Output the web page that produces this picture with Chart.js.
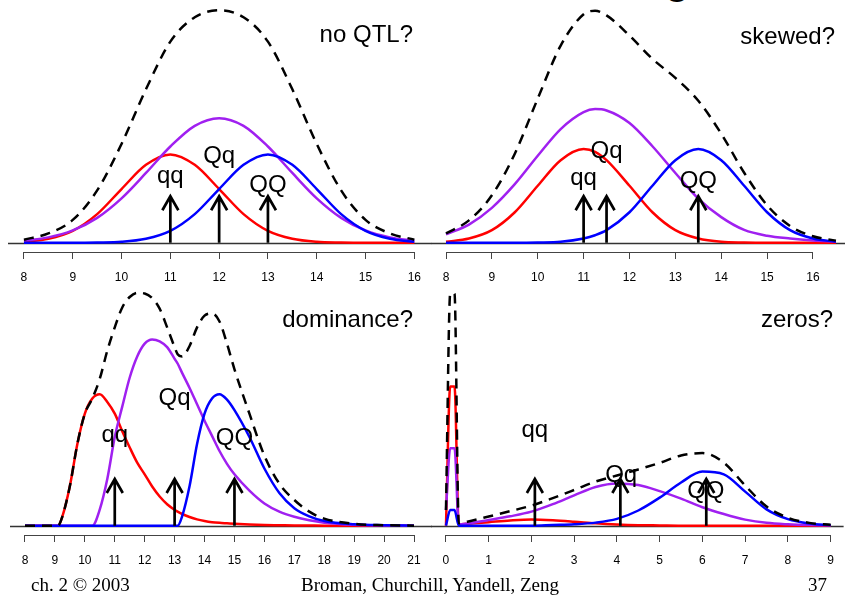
<!DOCTYPE html>
<html>
<head>
<meta charset="utf-8">
<script src="https://cdn.jsdelivr.net/npm/chart.js@4.4.1/dist/chart.umd.min.js"></script>
<style>
    html, body { margin: 0; padding: 0; background: #fff; overflow: hidden; }
    body { width: 845px; height: 598px; position: relative; }
    canvas { position: absolute; }
    .foot { position: absolute; font-family: "Liberation Serif", "Times New Roman", serif; font-size: 19px; line-height: 19px; color: #000; white-space: nowrap; }
    .cut { position: absolute; font-family: "Liberation Sans", Arial, sans-serif; font-size: 48px; line-height: 48px; color: #000; }
</style>
</head>
<body>
<div class="cut" style="left:664px; top:-48px;">g</div>

<canvas id="noQtl" width="432" height="290" style="left:0; top:0;"></canvas>
<canvas id="skewed" width="420" height="290" style="left:425px; top:0;"></canvas>
<canvas id="dominance" width="432" height="290" style="left:0; top:283px;"></canvas>
<canvas id="zeros" width="420" height="290" style="left:425px; top:283px;"></canvas>

<div class="foot" style="left:31px; top:575px;">ch. 2 © 2003</div>
<div class="foot" style="left:230px; top:575px; width:400px; text-align:center;">Broman, Churchill, Yandell, Zeng</div>
<div class="foot" style="right:18px; top:575px; text-align:right;">37</div>

<script>
// genotype labels shared by all panels
const genoLabels = ['qq', 'Qq', 'QQ'];
const arrowTop = 20;

// no QTL?
const noQtlX = [8, 8.5, 9, 9.5, 10, 10.5, 11, 11.5, 12, 12.5, 13, 13.5, 14, 14.5, 15, 15.5, 16];
const noQtlqq = [0.4, 1.7, 5.1, 12.3, 23.1, 33.5, 38, 33.5, 23.1, 12.3, 5.1, 1.7, 0.4, 0.1, 0, 0, 0];
const noQtlQq = [0.9, 2.3, 5.3, 10.7, 19.1, 30.0, 41.4, 50.3, 53.6, 50.3, 41.4, 30.0, 19.1, 10.7, 5.3, 2.3, 0.9];
const noQtlQQ = [0, 0, 0, 0.1, 0.4, 1.7, 5.1, 12.3, 23.1, 33.5, 38, 33.5, 23.1, 12.3, 5.1, 1.7, 0.4];
const noQtlTotal = [1.3, 4.0, 9.8, 22.5, 42.5, 66, 86.5, 97, 100, 97, 86.5, 66, 42.5, 22.5, 9.8, 4.0, 1.3];
const noQtlTicks = [8, 9, 10, 11, 12, 13, 14, 15, 16];
const noQtlMeans = [11, 12, 13];
const noQtlLabelX = [11, 12, 13];
const noQtlLabelY = [25.8, 34.2, 21.9];

// skewed?
const skewX = [8, 8.5, 9, 9.5, 10, 10.5, 11, 11.25, 11.5, 12, 12.5, 13, 13.5, 14, 14.5, 15, 15.5, 16, 16.5];
const skewqq = [0.4, 1.8, 5.4, 13.1, 24.5, 35.5, 40.3, 39.1, 35.5, 24.5, 13.1, 5.4, 1.8, 0.4, 0.1, 0, 0, 0, 0];
const skewQq = [3.6, 7.8, 15.0, 25.2, 37.4, 48.9, 56.2, 57.5, 56.9, 51.5, 41.5, 30.0, 19.0, 11.0, 5.5, 3.0, 1.8, 1.0, 0.5];
const skewQQ = [0, 0, 0, 0, 0.1, 0.4, 1.8, 3.2, 5.4, 13.1, 24.5, 35.5, 40.3, 35.5, 24.5, 13.1, 5.4, 1.8, 0.4];
const skewTotal = [4.0, 9.6, 20.4, 38.3, 62.0, 84.8, 98.3, 99.8, 97.8, 89.1, 79.1, 70.9, 61.1, 46.9, 30.1, 16.1, 7.2, 2.8, 0.9];
const skewTicks = [8, 9, 10, 11, 12, 13, 14, 15, 16];
const skewMeans = [11, 11.5, 13.5];
const skewLabelX = [11, 11.5, 13.5];
const skewLabelY = [24.8, 36.3, 23.4];

// dominance?
const domX = [8, 9, 9.1, 9.25, 9.5, 9.75, 10, 10.25, 10.5, 10.75, 11, 11.25, 11.5, 11.75, 12, 12.25, 12.5, 12.75,
    13, 13.1, 13.25, 13.5, 13.75, 14, 14.25, 14.5, 14.75, 15, 15.5, 16, 16.5, 17, 17.5, 18, 19, 20, 21];
const domqq = [0, 0, 0, 4, 17, 35, 48, 54.5, 56.3, 53, 48, 40.5, 33.5, 27, 22, 16.8, 12.5, 9.2,
    6.8, 6, 5, 3.7, 2.7, 2, 1.5, 1.2, 1, 0.8, 0.5, 0.3, 0.2, 0.1, 0.05, 0, 0, 0, 0];
const domQq = [0, 0, 0, 0, 0, 0, 0, 0, 7, 20, 38, 51, 63.5, 72.5, 78, 79.8, 79, 76.5,
    71.5, 69.5, 65.5, 59, 52, 45, 38.5, 32, 26.5, 22, 15, 9.5, 6, 3.8, 2.3, 1.3, 0.4, 0.1, 0];
const domQQ = [0, 0, 0, 0, 0, 0, 0, 0, 0, 0, 0, 0, 0, 0, 0, 0, 0, 0,
    0, 0, 4, 17, 35, 48, 54.5, 56.3, 54, 49.5, 38, 24.5, 14, 7.5, 4, 2, 0.6, 0.2, 0];
const domTotal = [0, 0, 0, 4, 17, 35, 48, 54.5, 63, 75, 85, 93.5, 98, 99.8, 99.5, 97.5, 93, 85,
    76.5, 73.5, 72.5, 77, 85, 90, 91, 87.5, 78, 67, 48, 30, 18, 11, 6, 3, 0.8, 0.2, 0];
const domTicks = [8, 9, 10, 11, 12, 13, 14, 15, 16, 17, 18, 19, 20, 21];
const domMeans = [11, 13, 15];
const domLabelX = [11, 13, 15];
const domLabelY = [36, 51.7, 34.6];

// zeros?
const zeroX = [0, 0.1, 0.2, 0.3, 0.5, 1, 1.5, 2, 2.5, 3, 3.5, 4, 4.5, 5, 5.5, 6, 6.5, 7, 7.5, 8, 8.5, 9];
const zeroqq = [0, 59.6, 59.6, 0.5, 0.8, 1.5, 2.2, 2.6, 2.3, 1.7, 1.0, 0.5, 0.2, 0.1, 0, 0, 0, 0, 0, 0, 0, 0];
const zeroQq = [6.7, 33.2, 33.2, 0.5, 0.9, 2.4, 4, 6, 9.2, 13, 16.6, 18.1, 17.4, 14.8, 11.6, 7.9, 5, 2.6, 1.2, 0.6, 0.3, 0.2];
const zeroQQ = [0, 6.7, 6.7, 0, 0, 0, 0, 0, 0.3, 0.6, 1.3, 2.9, 6.5, 12, 18.5, 23.2, 22, 14.6, 7, 2.8, 0.9, 0.2];
const zeroTotal = [6.7, 99.5, 99.5, 1.0, 1.7, 3.9, 6.2, 8.6, 11.8, 15.3, 18.9, 21.5, 24.1, 26.9, 30.1, 31.1, 27, 17.2, 8.2, 3.4, 1.2, 0.4];
const zeroTicks = [0, 1, 2, 3, 4, 5, 6, 7, 8, 9];
const zeroMeans = [2.08, 4.08, 6.09];
const zeroLabelX = [2.08, 4.1, 6.08];
const zeroLabelY = [38.1, 18.9, 11.7];

const SANS = '"Liberation Sans", Arial, sans-serif';

function panelDecor(opt) {
    return {
        id: 'panelDecor',
        beforeDatasetsDraw(chart) {
            const { ctx, chartArea, scales: { x, y } } = chart;
            ctx.save();
            // zero line
            const y0 = Math.round(y.getPixelForValue(0)) + 0.5;
            ctx.strokeStyle = '#333';
            ctx.lineWidth = 1.3;
            ctx.beginPath();
            ctx.moveTo(chartArea.left, y0);
            ctx.lineTo(chartArea.right, y0);
            ctx.stroke();
            // axis line between first and last tick
            const ay = chartArea.bottom + 0.5;
            ctx.strokeStyle = '#444';
            ctx.lineWidth = 1;
            ctx.beginPath();
            ctx.moveTo(x.getPixelForValue(opt.ticks[0]), ay);
            ctx.lineTo(x.getPixelForValue(opt.ticks[opt.ticks.length - 1]), ay);
            ctx.stroke();
            ctx.restore();
        },
        afterDatasetsDraw(chart) {
            const { ctx, scales: { x, y } } = chart;
            ctx.save();
            ctx.strokeStyle = '#000';
            ctx.lineWidth = 2.7;
            ctx.lineJoin = 'miter';
            opt.means.forEach((m) => {
                const px = x.getPixelForValue(m);
                const base = y.getPixelForValue(0);
                const tip = y.getPixelForValue(arrowTop);
                ctx.beginPath();
                ctx.moveTo(px, base);
                ctx.lineTo(px, tip + 1);
                ctx.moveTo(px - 8, tip + 14);
                ctx.lineTo(px, tip);
                ctx.lineTo(px + 8, tip + 14);
                ctx.stroke();
            });

            ctx.fillStyle = '#000';
            ctx.font = '24px ' + SANS;
            ctx.textAlign = 'center';
            ctx.textBaseline = 'alphabetic';
            genoLabels.forEach((label, i) => {
                ctx.fillText(label, x.getPixelForValue(opt.labelX[i]), y.getPixelForValue(opt.labelY[i]));
            });

            ctx.textAlign = 'right';
            ctx.fillText(opt.title, opt.titleRight, opt.titleBaseline);
            ctx.restore();
        },
    };
}

function makePanel(id, opt) {
    const pts = (ys) => opt.x.map((x, i) => ({ x, y: ys[i] }));
    const line = (label, ys, color, dash) => ({
        label,
        data: pts(ys),
        borderColor: color,
        borderWidth: 2.5,
        borderDash: dash ?? [],
        borderJoinStyle: 'round',
        pointRadius: 0,
        fill: false,
        cubicInterpolationMode: 'monotone',
    });

    return new Chart(document.getElementById(id), {
        type: 'line',
        data: {
            datasets: [
                line('total', opt.total, '#000000', [10, 7]),
                line('QQ', opt.QQ, '#0000ff'),
                line('Qq', opt.Qq, '#a020f0'),
                line('qq', opt.qq, '#ff0000'),
            ],
        },
        options: {
            responsive: false,
            animation: false,
            events: [],
            layout: {
                padding: { left: opt.padLeft, right: 0, top: opt.padTop, bottom: 0 },
            },
            scales: {
                x: {
                    type: 'linear',
                    min: opt.xMin,
                    max: opt.xMax,
                    afterBuildTicks: (scale) => {
                        scale.ticks = opt.ticks.map((v) => ({ value: v }));
                    },
                    afterFit: (scale) => {
                        scale.height = 38;
                    },
                    grid: {
                        drawOnChartArea: false,
                        drawTicks: true,
                        tickLength: 7,
                        color: '#444',
                    },
                    border: { display: false },
                    ticks: {
                        autoSkip: false,
                        maxRotation: 0,
                        padding: 11,
                        color: '#000',
                        font: { family: SANS, size: 12 },
                        callback: (v) => String(v),
                    },
                },
                y: {
                    display: false,
                    min: -4,
                    max: 104,
                },
            },
            plugins: {
                legend: { display: false },
                tooltip: { enabled: false },
            },
        },
        plugins: [panelDecor(opt)],
    });
}

makePanel('noQtl', {
    x: noQtlX, qq: noQtlqq, Qq: noQtlQq, QQ: noQtlQQ, total: noQtlTotal,
    ticks: noQtlTicks, means: noQtlMeans, labelX: noQtlLabelX, labelY: noQtlLabelY,
    xMin: 7.673, xMax: 16.348, padLeft: 8, padTop: 1,
    title: 'no QTL?', titleRight: 413, titleBaseline: 42,
});

makePanel('skewed', {
    x: skewX, qq: skewqq, Qq: skewQq, QQ: skewQQ, total: skewTotal,
    ticks: skewTicks, means: skewMeans, labelX: skewLabelX, labelY: skewLabelY,
    xMin: 7.673, xMax: 16.698, padLeft: 6, padTop: 1,
    title: 'skewed?', titleRight: 410, titleBaseline: 44,
});

makePanel('dominance', {
    x: domX, qq: domqq, Qq: domQq, QQ: domQQ, total: domTotal,
    ticks: domTicks, means: domMeans, labelX: domLabelX, labelY: domLabelY,
    xMin: 7.499, xMax: 21.601, padLeft: 10, padTop: 0,
    title: 'dominance?', titleRight: 413, titleBaseline: 44,
});

makePanel('zeros', {
    x: zeroX, qq: zeroqq, Qq: zeroQq, QQ: zeroQQ, total: zeroTotal,
    ticks: zeroTicks, means: zeroMeans, labelX: zeroLabelX, labelY: zeroLabelY,
    xMin: -0.35, xMax: 9.303, padLeft: 6, padTop: 0,
    title: 'zeros?', titleRight: 408, titleBaseline: 44,
});
</script>
</body>
</html>
